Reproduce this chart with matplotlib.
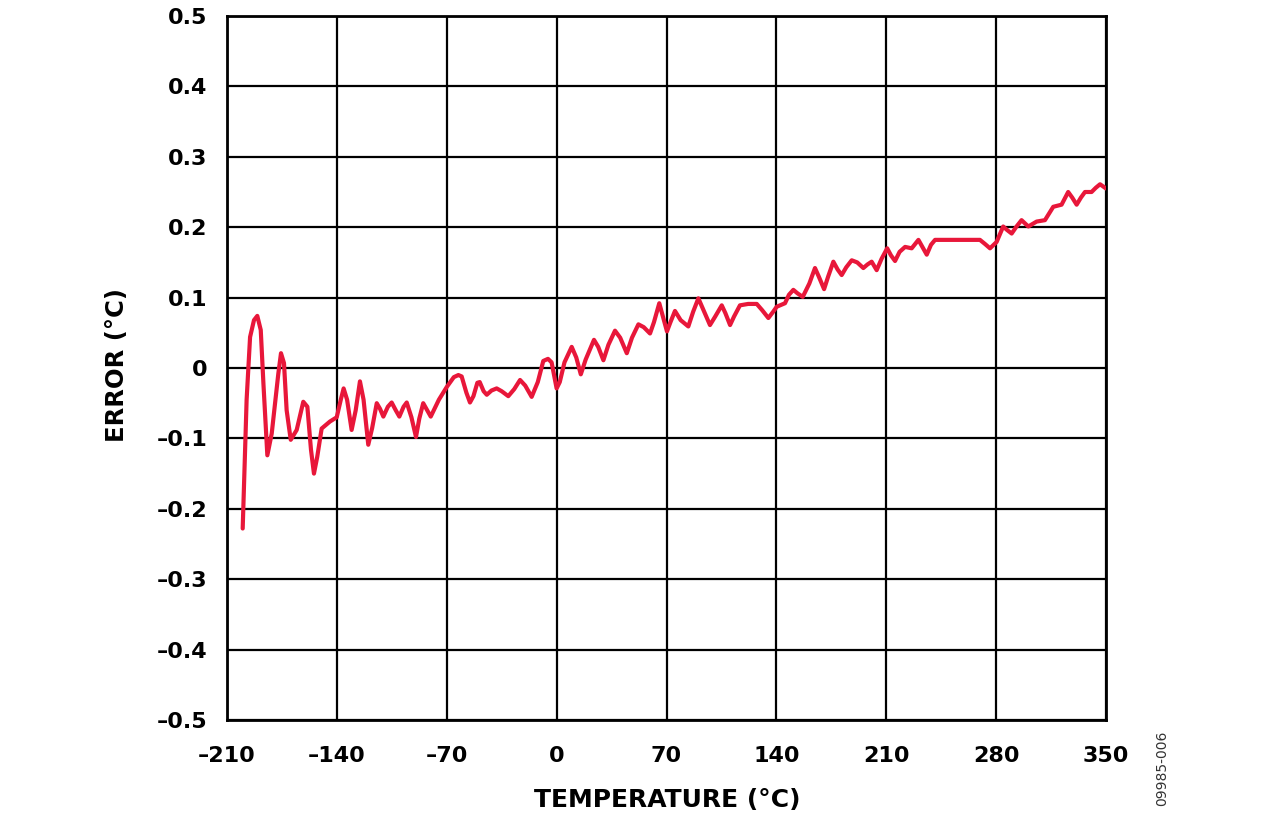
import matplotlib
matplotlib.use("Agg")
import matplotlib.pyplot as plt

temperature = [-200.0, -197.5, -195.3, -192.8, -190.7, -188.5, -186.8, -184.3, -181.5,
               -177.3, -175.6, -173.7, -172.0, -169.4, -165.6, -161.4, -158.8, -156.5,
               -154.6, -152.5, -149.7, -144.4, -140.1, -137.5, -135.7, -133.5, -130.6,
               -128.0, -125.3, -123.0, -120.0, -117.5, -114.6, -112.5, -110.4, -107.5,
               -105.1, -102.5, -100.2, -97.5, -95.5, -92.5, -89.6, -87.5, -85.0, -82.5,
               -80.2, -75.0, -70.0, -65.5,
               -62.6, -60.5, -57.5, -55.2, -53.0, -50.5, -49.0, -46.5, -44.5, -41.5,
               -38.2, -35.0, -30.8, -27.0, -23.3, -20.0, -15.9, -12.0, -8.5, -5.5,
               -3.2, -1.5, 0.0, 2.0, 5.0, 9.6, 12.5, 15.4, 18.5, 23.8, 26.5, 29.8,
               33.0, 37.2, 40.5, 44.7, 48.0, 52.1, 55.5, 59.5, 62.0, 65.4, 67.5, 70.3,
               72.5, 75.4, 79.0, 83.9, 87.0, 90.3, 93.0, 97.7, 101.0, 105.2, 107.5,
               110.5, 113.0, 116.8, 122.0, 127.5, 131.0, 134.9, 138.0, 140.2, 145.5,
               148.0, 150.8, 153.5, 156.8, 161.0, 164.6, 167.0, 170.4, 173.0, 176.3,
               179.0, 181.6, 184.5, 188.0, 191.5, 195.4, 198.0, 200.7, 203.9, 207.0,
               210.6, 213.0, 215.6, 218.5, 222.0, 226.2, 230.5, 233.0, 235.8, 238.5,
               241.1, 269.7, 273.0, 276.1, 280.3, 284.5, 287.0, 289.9, 293.0, 296.2,
               300.5, 305.8, 311.1, 316.4, 321.7, 325.9, 328.5, 331.3, 334.0, 336.6,
               340.8, 343.5, 346.2, 350.0]
error = [-0.228, -0.045, 0.044, 0.068, 0.074, 0.054, -0.022, -0.124, -0.093,
         -0.008, 0.021, 0.007, -0.060, -0.102, -0.088, -0.048, -0.055, -0.116,
         -0.150, -0.126, -0.086, -0.076, -0.070, -0.045, -0.029, -0.045, -0.088,
         -0.060, -0.019, -0.045, -0.109, -0.085, -0.050, -0.058, -0.069, -0.055,
         -0.049, -0.060, -0.069, -0.055, -0.049, -0.070, -0.098, -0.072, -0.050, -0.060,
         -0.069, -0.045, -0.027, -0.013,
         -0.010, -0.012, -0.035, -0.049, -0.040, -0.021, -0.020, -0.033, -0.038, -0.032,
         -0.029, -0.033, -0.040, -0.030, -0.017, -0.025, -0.041, -0.020, 0.010, 0.013,
         0.008, -0.012, -0.029, -0.020, 0.008, 0.030, 0.015, -0.009, 0.012, 0.040, 0.030, 0.011,
         0.033, 0.053, 0.043, 0.021, 0.043, 0.062, 0.058, 0.049, 0.065, 0.092, 0.075, 0.052,
         0.065, 0.081, 0.068, 0.059, 0.080, 0.099, 0.085, 0.061, 0.073, 0.089, 0.078,
         0.061, 0.073, 0.089, 0.091, 0.091, 0.082, 0.071, 0.080, 0.087, 0.092,
         0.104, 0.111, 0.106, 0.101, 0.120, 0.142, 0.130, 0.112, 0.130, 0.151,
         0.140, 0.132, 0.143, 0.153, 0.150, 0.142, 0.147, 0.151, 0.139, 0.155,
         0.170, 0.160, 0.152, 0.165, 0.172, 0.170, 0.182, 0.172, 0.161, 0.175,
         0.182, 0.182, 0.176, 0.170, 0.179, 0.201, 0.196, 0.191, 0.201, 0.210,
         0.201, 0.208, 0.210, 0.229, 0.232, 0.250, 0.242, 0.232, 0.242, 0.250,
         0.250, 0.256, 0.261, 0.255]

x_ticks = [-210, -140, -70, 0, 70, 140, 210, 280, 350]
y_ticks = [0.5, 0.4, 0.3, 0.2, 0.1, 0, -0.1, -0.2, -0.3, -0.4, -0.5]

def fmt(v):
    s = f"{v:g}"
    return s.replace("-", "\u2013")

plt.rcParams['font.family'] = ['DejaVu Sans']

fig = plt.figure(figsize=(12.8, 8.15), dpi=100)
ax = fig.add_axes([227/1280, 1 - 720/815, (1106 - 227)/1280, (720 - 16)/815])

ax.plot(temperature, error, color="#E8173A", linewidth=3.0,
        solid_joinstyle="round", solid_capstyle="round", zorder=3)

ax.set_xlim(-210, 350)
ax.set_ylim(-0.5, 0.5)
ax.set_xticks(x_ticks)
ax.set_yticks(y_ticks)
ax.set_xticklabels([fmt(v) for v in x_ticks], fontsize=16, fontweight="bold")
ax.set_yticklabels([fmt(v) for v in y_ticks], fontsize=16, fontweight="bold")
ax.tick_params(axis="both", length=0)
ax.tick_params(axis="x", pad=19)
ax.tick_params(axis="y", pad=14)
ax.grid(True, color="black", linewidth=1.6, zorder=1)
ax.set_axisbelow(True)
for sp in ax.spines.values():
    sp.set_linewidth(2)
    sp.set_color("black")

fig.text(667/1280, 1 - 800/815, "TEMPERATURE (\u00b0C)", fontsize=18,
         fontweight="bold", ha="center", va="center")
fig.text(117/1280, 1 - 365/815, "ERROR (\u00b0C)", fontsize=17.5,
         fontweight="bold", ha="center", va="center", rotation=90)
fig.text(1162/1280, 1 - 768/815, "09985-006", fontsize=10, color="#333333",
         ha="center", va="center", rotation=90)

fig.savefig("out.png", dpi=100)
